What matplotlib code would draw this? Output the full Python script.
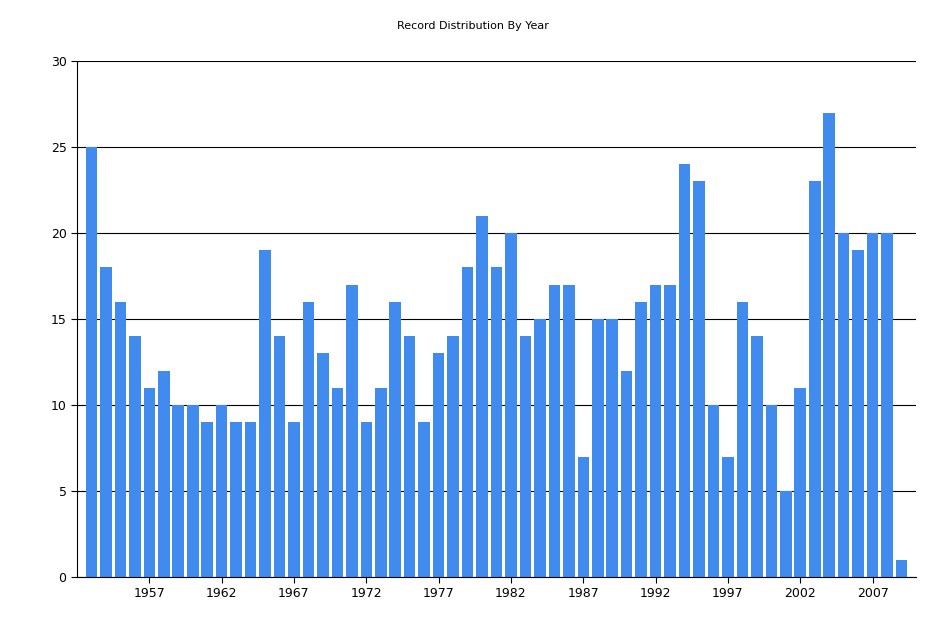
import matplotlib
matplotlib.use("Agg")
import matplotlib.pyplot as plt

years = list(range(1953, 2010))
counts = [25, 18, 16, 14, 11, 12, 10, 10, 9, 10, 9, 9, 19, 14, 9, 16, 13, 11, 17, 9,
          11, 16, 14, 9, 13, 14, 18, 21, 18, 20, 14, 15, 17, 17, 7, 15, 15, 12, 16, 17,
          17, 24, 23, 10, 7, 16, 14, 10, 5, 11, 23, 27, 20, 19, 20, 20, 1]
xticks = list(range(1957, 2010, 5))
yticks = [0, 5, 10, 15, 20, 25, 30]

fig = plt.figure(figsize=(9.45, 6.3), dpi=100)
ax = fig.add_axes([77/945, 1-577/630, (916-77)/945, (577-61)/630])
ax.bar(years, counts, width=0.8, color="#418AEE", zorder=2)
ax.set_xlim(1952, 2010)
ax.set_ylim(0, 30)
ax.set_xticks(xticks)
ax.set_yticks(yticks)
ax.yaxis.grid(True, color="black", linewidth=0.8, zorder=1)
for s in ["top", "right"]:
    ax.spines[s].set_visible(False)
ax.tick_params(labelsize=9, length=4)
fig.text(0.5, 1-26/630, "Record Distribution By Year", ha="center", va="center", fontsize=8)
fig.savefig("out.png", dpi=100)
